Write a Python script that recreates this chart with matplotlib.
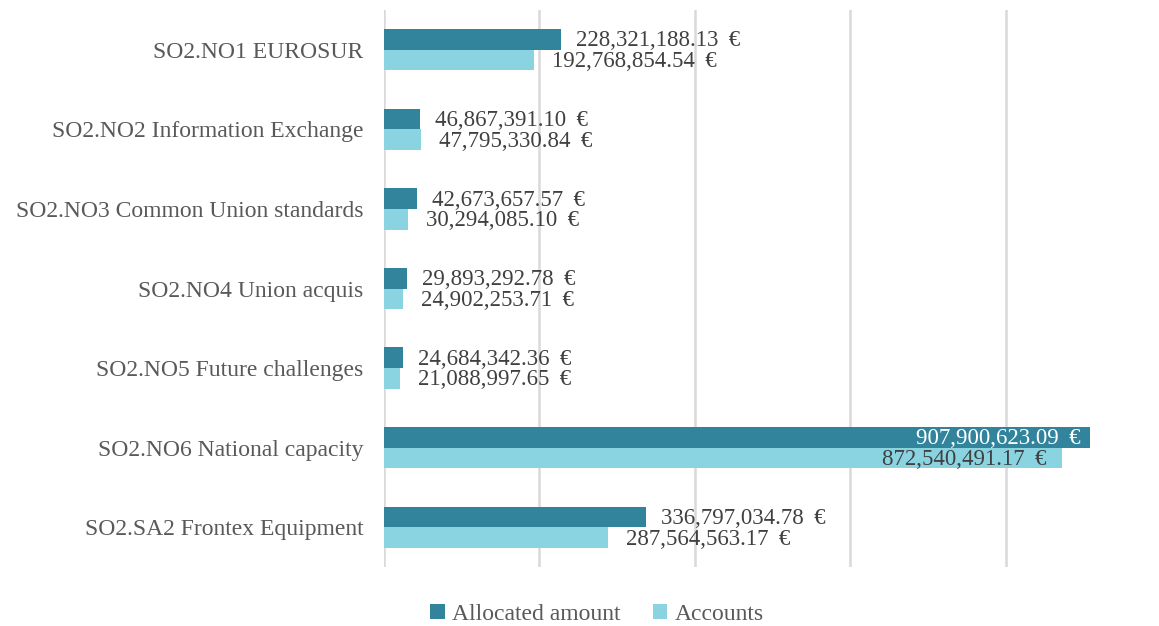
import numpy as np
import matplotlib.pyplot as plt

plt.rcParams['font.family'] = ['Liberation Serif', 'DejaVu Serif']

categories = ['SO2.NO1 EUROSUR', 'SO2.NO2 Information Exchange',
              'SO2.NO3 Common Union standards', 'SO2.NO4 Union acquis',
              'SO2.NO5 Future challenges', 'SO2.NO6 National capacity',
              'SO2.SA2 Frontex Equipment']
allocated = [228321188.13, 46867391.10, 42673657.57, 29893292.78,
             24684342.36, 907900623.09, 336797034.78]
accounts = [192768854.54, 47795330.84, 30294085.10, 24902253.71,
            21088997.65, 872540491.17, 287564563.17]

dark = '#31849B'
light = '#8AD4E2'
text_col = '#404040'

fig = plt.figure(figsize=(11.59, 6.26), dpi=100)
ax = fig.add_axes([384 / 1159, 59 / 626, 1 - 384 / 1159, 557 / 626])

y = np.arange(len(categories))
h = 0.26
ax.barh(y - h / 2, allocated, height=h, color=dark, label='Allocated amount')
ax.barh(y + h / 2, accounts, height=h, color=light, label='Accounts')

xmax = 997e6
px = xmax / 775  # data units per pixel
ax.set_xlim(0, xmax)
ax.set_ylim(len(categories) - 0.5, -0.5)
ax.set_xticks(np.arange(0, 1000e6, 200e6))
ax.set_xticklabels([])
ax.set_yticks(y)
ax.set_yticklabels(categories, fontsize=17, color='#595959')
ax.tick_params(axis='both', length=0)
ax.tick_params(axis='y', pad=15)
ax.grid(axis='x', color='#D9D9D9', linewidth=1.8)
ax.set_axisbelow(True)
for s in ax.spines.values():
    s.set_visible(False)


def fmt(v):
    return f'{v:,.2f}\u00a0\u2009€'


dy = 1.5 / 79.5  # small downward nudge of the labels
for vals, shift, out_off, in_off, in_col in [
        (allocated, -h / 2, 15, 9, 'white'),
        (accounts, h / 2, 18, 16, text_col)]:
    for i, val in enumerate(vals):
        if val > 0.8 * xmax:
            ax.text(val - in_off * px, i + shift + dy, fmt(val), ha='right',
                    va='center', fontsize=16.5, color=in_col)
        else:
            ax.text(val + out_off * px, i + shift + dy, fmt(val), ha='left',
                    va='center', fontsize=16.5, color=text_col)

fig.legend(loc='center', bbox_to_anchor=(597 / 1159, 1 - 614 / 626), ncol=2,
           frameon=False, fontsize=17, handlelength=0.6, handleheight=0.6,
           handletextpad=0.3, columnspacing=1.4, labelcolor='#595959',
           borderpad=0.1)

fig.savefig('out.png', dpi=100)
